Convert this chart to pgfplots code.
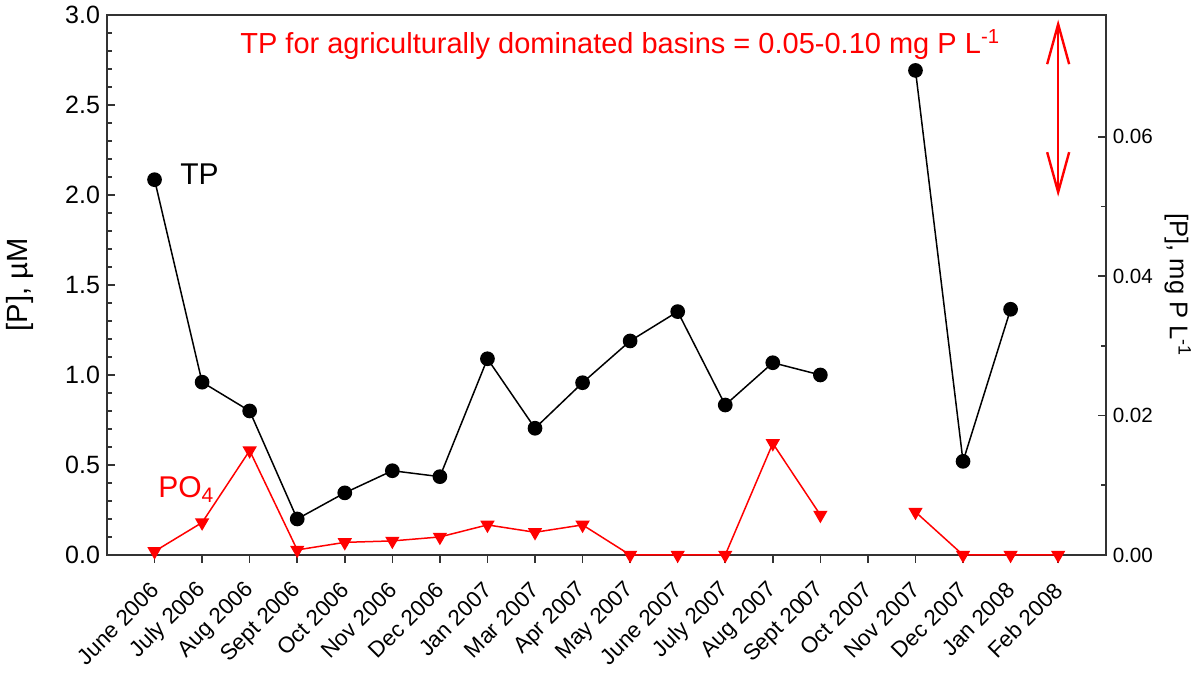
\documentclass[border=0pt]{standalone}
\usepackage{fontspec}
\setmainfont{Liberation Sans}
\usepackage{pgfplots}
\pgfplotsset{compat=1.18}
\usetikzlibrary{arrows.meta}

\pgfplotstableread{
x tp po
0 2.085 0.02
1 0.96 0.18
2 0.80 0.58
3 0.20 0.028
4 0.345 0.07
5 0.468 0.078
6 0.435 0.10
7 1.09 0.167
8 0.704 0.126
9 0.957 0.167
10 1.189 0
11 1.352 0
12 0.833 0
13 1.068 0.62
14 1.0 0.222
15 nan nan
16 2.692 0.239
17 0.52 0
18 1.365 0
19 nan 0
}\datatable

\begin{document}
\begin{tikzpicture}
\useasboundingbox (-53.5pt,-60pt) rectangle (548.55pt,277.5pt);
\begin{axis}[
  at={(0,0)}, anchor=south west,
  scale only axis, width=499.4pt, height=270pt,
  xmin=-1, xmax=20, ymin=0, ymax=3,
  xtick={0,...,19},
  xticklabels={June 2006,July 2006,Aug 2006,Sept 2006,Oct 2006,Nov 2006,Dec 2006,Jan 2007,Mar 2007,Apr 2007,May 2007,June 2007,July 2007,Aug 2007,Sept 2007,Oct 2007,Nov 2007,Dec 2007,Jan 2008,Feb 2008},
  ytick={0,0.5,...,3.0},
  minor y tick num=4,
  xtick pos=bottom, ytick pos=left,
  tick align=inside,
  major tick length=4pt, minor tick length=2.5pt,
  x tick style={yshift=-4pt},
  axis line style={black!80, line width=0.9pt},
  every tick/.style={black!80, line width=0.8pt},
  /pgf/number format/assume math mode=true,
  yticklabel style={font=\fontsize{12.5}{14}\selectfont, /pgf/number format/.cd, fixed, fixed zerofill, precision=1},
  xticklabel style={font=\fontsize{11.2}{13}\selectfont, inner sep=1pt, xshift=1pt, yshift=-15pt, rotate=45, anchor=east},
  unbounded coords=jump,
  clip=false,
]
\addplot[red, line width=0.75pt, mark=triangle*, mark size=3.4pt, mark options={rotate=180, fill=red, draw=red}] table[x=x, y=po] {\datatable};
\addplot[black, line width=0.75pt, mark=*, mark size=3.3pt, mark options={fill=black}] table[x=x, y=tp] {\datatable};
\end{axis}
\begin{axis}[
  at={(0,0)}, anchor=south west,
  scale only axis, width=499.4pt, height=270pt,
  xmin=-1, xmax=20, ymin=0, ymax=0.07747,
  axis x line=none, axis y line*=right,
  ytick={0,0.02,0.04,0.06},
  minor y tick num=1,
  scaled y ticks=false,
  tick align=inside,
  major tick length=4pt, minor tick length=2.5pt,
  axis line style={black!80, line width=0.9pt},
  every tick/.style={black!80, line width=0.8pt},
  /pgf/number format/assume math mode=true,
  yticklabel style={font=\fontsize{10.3}{12}\selectfont, /pgf/number format/.cd, fixed, fixed zerofill, precision=2},
  clip=false,
]
\draw[red, line width=1.2pt, {Straight Barb[length=20pt,width=11pt]}-{Straight Barb[length=20pt,width=11pt]}] (axis cs:19,0.0768) -- (axis cs:19,0.0514);
\end{axis}
\node[rotate=90, font=\fontsize{14.6}{16}\selectfont] at (-43.5pt,135pt) {[P], µM};
\node[rotate=-90, font=\fontsize{12.8}{14}\selectfont] at (535.4pt,135pt) {[P], mg P L\textsuperscript{-1}};
\node[anchor=base west, font=\fontsize{15}{17}\selectfont, inner sep=0pt] at (36.5pt,185pt) {TP};
\node[anchor=base west, font=\fontsize{15}{17}\selectfont, inner sep=0pt, text=red] at (25.5pt,28.5pt) {PO\textsubscript{4}};
\node[anchor=base west, font=\fontsize{14.5}{16}\selectfont, inner sep=0pt, text=red] at (66.5pt,250.5pt) {TP for agriculturally dominated basins = 0.05-0.10 mg P L\textsuperscript{-1}};
\end{tikzpicture}
\end{document}
